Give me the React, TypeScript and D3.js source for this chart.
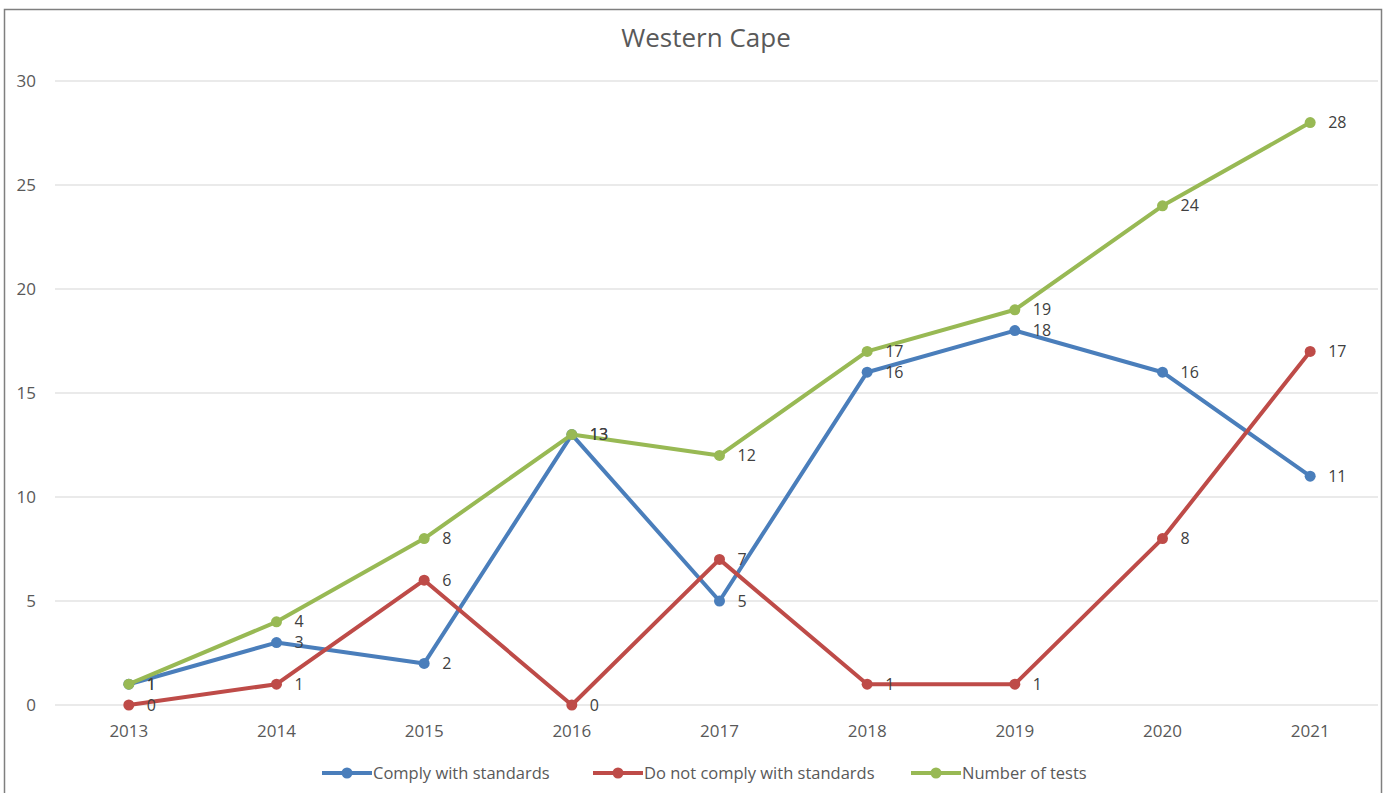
import { useEffect, useRef } from "react";
import * as d3 from "d3";

const years = ["2013", "2014", "2015", "2016", "2017", "2018", "2019", "2020", "2021"];
const comply = [1, 3, 2, 13, 5, 16, 18, 16, 11];
const notComply = [0, 1, 6, 0, 7, 1, 1, 8, 17];
const tests = [1, 4, 8, 13, 12, 17, 19, 24, 28];
const yTicks = [0, 5, 10, 15, 20, 25, 30];

const seriesList = [
  { name: "Comply with standards", values: comply, color: "#4a7ebb" },
  { name: "Do not comply with standards", values: notComply, color: "#be4b48" },
  { name: "Number of tests", values: tests, color: "#98b954" },
];

const W = 1386;
const H = 793;
const FONT = "'Open Sans', 'Liberation Sans', sans-serif";

export default function App() {
  const ref = useRef<SVGSVGElement>(null);

  useEffect(() => {
    if (!ref.current) return;
    const svg = d3.select(ref.current);
    svg.selectAll("*").remove();

    // chart frame
    svg.append("rect")
      .attr("x", 4.5).attr("y", 9.5)
      .attr("width", 1377).attr("height", 800)
      .attr("fill", "#fff").attr("stroke", "#7f7f7f").attr("stroke-width", 1.5);

    const left = 55, right = 1384, top = 81, bottom = 705;

    const x = d3.scalePoint<string>().domain(years).range([left, right]).padding(0.5);
    const y = d3.scaleLinear().domain([0, 30]).range([bottom, top]);

    // ── Title ──
    svg.append("text")
      .attr("x", 706).attr("y", 47)
      .attr("text-anchor", "middle")
      .attr("fill", "#595959").attr("font-size", 26).attr("font-family", FONT)
      .text("Western Cape");

    // ── Grid + y labels ──
    const grid = svg.append("g");
    yTicks.forEach((t) => {
      grid.append("line")
        .attr("x1", left).attr("x2", 1378)
        .attr("y1", y(t)).attr("y2", y(t))
        .attr("stroke", "#e3e3e3").attr("stroke-width", 1.5);
      grid.append("text")
        .attr("x", 36).attr("y", y(t)).attr("dy", "0.35em")
        .attr("text-anchor", "end")
        .attr("fill", "#595959").attr("font-size", 17).attr("font-family", FONT)
        .text(t);
    });

    // ── x labels ──
    years.forEach((yr) => {
      svg.append("text")
        .attr("x", x(yr)!).attr("y", 737)
        .attr("text-anchor", "middle")
        .attr("fill", "#595959").attr("font-size", 17).attr("font-family", FONT)
        .text(yr);
    });

    // ── Lines ──
    const line = d3.line<number>()
      .x((_, i) => x(years[i])!)
      .y((d) => y(d));

    seriesList.forEach((s) => {
      svg.append("path").datum(s.values)
        .attr("fill", "none").attr("stroke", s.color)
        .attr("stroke-width", 4).attr("stroke-linejoin", "round")
        .attr("d", line);
      svg.append("g").selectAll("circle").data(s.values).join("circle")
        .attr("cx", (_, i) => x(years[i])!)
        .attr("cy", (d) => y(d))
        .attr("r", 5.5)
        .attr("fill", s.color);
    });

    // ── Data labels ──
    seriesList.forEach((s) => {
      svg.append("g").selectAll("text").data(s.values).join("text")
        .attr("x", (_, i) => x(years[i])! + 18)
        .attr("y", (d) => y(d)).attr("dy", "0.35em")
        .attr("fill", "#404040").attr("font-size", 16).attr("font-family", FONT)
        .text((d) => d);
    });

    // ── Legend ──
    const legendX = [322, 593, 911];
    seriesList.forEach((s, i) => {
      const lx = legendX[i];
      const ly = 773;
      svg.append("line")
        .attr("x1", lx).attr("x2", lx + 50)
        .attr("y1", ly).attr("y2", ly)
        .attr("stroke", s.color).attr("stroke-width", 4);
      svg.append("circle")
        .attr("cx", lx + 25).attr("cy", ly).attr("r", 5.5).attr("fill", s.color);
      svg.append("text")
        .attr("x", lx + 51).attr("y", ly).attr("dy", "0.35em")
        .attr("fill", "#595959").attr("font-size", 16.5).attr("font-family", FONT)
        .text(s.name);
    });
  }, []);

  return (
    <svg
      ref={ref}
      width={W}
      height={H}
      style={{ position: "absolute", left: 0, top: 0, display: "block" }}
    />
  );
}
